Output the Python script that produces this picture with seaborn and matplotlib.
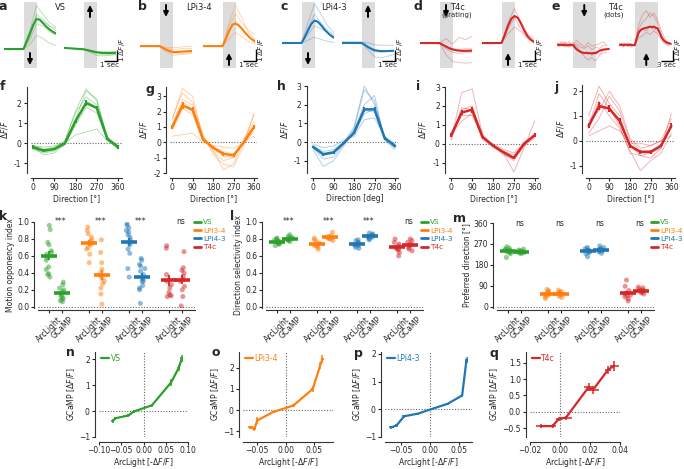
import numpy as np
import pandas as pd
import seaborn as sns
import matplotlib.pyplot as plt
from matplotlib.lines import Line2D
from matplotlib.ticker import FuncFormatter

sns.set_style('ticks')
plt.rcParams['font.family'] = ['DejaVu Sans']
plt.rcParams.update({
    'font.size': 5.5, 'axes.labelsize': 5.5,
    'xtick.labelsize': 5.5, 'ytick.labelsize': 5.5,
    'axes.linewidth': 0.8, 'axes.edgecolor': '0.2',
    'xtick.major.width': 0.8, 'ytick.major.width': 0.8,
    'xtick.major.size': 2.2, 'ytick.major.size': 2.2,
    'xtick.major.pad': 1.5, 'ytick.major.pad': 1.5,
    'axes.labelpad': 1.5,
})

GREEN, ORANGE, BLUE, RED = '#2ca02c', '#ff7f0e', '#1f77b4', '#d62728'
cells = ['VS', 'LPi3-4', 'LPi4-3', 'T4c']
cell_colors = [GREEN, ORANGE, BLUE, RED]

# ---- a-e: time traces ----
trace_t = [-1.5, -1.25, -1.0, -0.75, -0.5, -0.25, 0.0, 0.25, 0.5, 0.75, 1.0,
           1.25, 1.5, 1.75, 2.0, 2.25, 2.5]
trace_t_ind = [-1.5, -1.0, -0.5, 0.0, 0.5, 1.0, 1.5, 2.0, 2.5]
trace_t_e = [-4.0, -3.5, -3.0, -2.5, -2.0, -1.5, -1.0, -0.5, 0.0, 0.5, 1.0, 1.5,
             2.0, 2.5, 3.0, 3.5, 4.0, 4.5, 5.0, 5.5, 6.0, 6.5, 7.0, 7.5, 8.0,
             8.5, 9.0, 9.5]
trace_t_e_ind = [-4, -3, -2, -1, 0, 1, 2, 3, 4, 5, 6, 7, 8, 9]

vs_down_mean = [0, 0, 0, 0, 0, 0, 0, 0.7, 1.4, 2.1, 2.6, 2.55, 2.25, 1.95, 1.7, 1.5, 1.35]
vs_down_ind = [[0, 0, 0, 0, 1.6, 3.8, 3.0, 2.3, 1.9],
               [0, 0, 0, 0, 1.2, 3.0, 2.6, 2.0, 1.6],
               [0, 0, 0, 0, 0.8, 2.2, 2.0, 1.5, 1.2],
               [0, 0, 0, 0, 0.4, 1.2, 0.9, 0.5, 0.3],
               [0, 0, 0, 0, 1.0, 2.8, 2.4, 2.0, 1.8]]
vs_up_mean = [0.1, 0.08, 0.06, 0.04, 0.02, 0, -0.02, -0.08, -0.15, -0.22, -0.28,
              -0.32, -0.34, -0.35, -0.35, -0.34, -0.33]
vs_up_ind = [[0.1, 0.05, 0.0, -0.05, -0.2, -0.4, -0.5, -0.5, -0.45],
             [0.1, 0.05, 0.02, 0.0, -0.1, -0.2, -0.25, -0.2, -0.2],
             [0.1, 0.05, 0.0, -0.03, -0.3, -0.55, -0.6, -0.55, -0.5]]
lpi34_down_mean = [0, 0, 0, 0, 0, 0, 0, -0.15, -0.3, -0.42, -0.5, -0.52, -0.5,
                   -0.48, -0.46, -0.44, -0.42]
lpi34_down_ind = [[0, 0, 0, 0, -0.5, -0.8, -0.75, -0.7, -0.65],
                  [0, 0, 0, 0, -0.2, -0.3, -0.25, -0.2, -0.2],
                  [0, 0, 0, 0, -0.4, -0.6, -0.7, -0.6, -0.55],
                  [0, 0.05, 0, 0.05, -0.1, -0.15, -0.1, -0.05, -0.05]]
lpi34_up_mean = [0, 0, 0, 0, 0, 0, 0, 0.6, 1.3, 1.85, 1.95, 1.8, 1.5, 1.15, 0.85, 0.6, 0.4]
lpi34_up_ind = [[0, 0, 0, 0, 2.0, 3.6, 2.4, 1.2, 0.6],
                [0, 0, 0, 0, 1.2, 2.2, 1.5, 0.8, 0.5],
                [0, 0, 0, 0, 0.6, 1.2, 0.8, 0.4, 0.2],
                [0, 0, 0, 0, 1.8, 2.8, 2.0, 1.4, 1.0]]
lpi43_down_mean = [0, 0, 0, 0, 0, 0, 0, 1.0, 2.2, 3.3, 3.9, 3.7, 3.1, 2.4, 1.8, 1.3, 0.9]
lpi43_down_ind = [[0, 0, 0, 0, 3.5, 6.8, 5.0, 3.0, 1.8],
                  [0, 0, 0, 0, 2.5, 5.0, 3.5, 2.2, 1.4],
                  [0, 0, 0, 0, 1.5, 3.0, 2.5, 1.8, 1.2],
                  [0, 0, 0, 0, 0.5, 1.0, 0.6, 0.3, 0.1]]
lpi43_up_mean = [0, 0, 0, 0, 0, 0, 0, -0.3, -0.7, -1.0, -1.25, -1.35, -1.4, -1.42,
                 -1.4, -1.38, -1.35]
lpi43_up_ind = [[0.2, 0.2, 0.2, 0.2, 0.0, -0.3, -0.4, -0.4, -0.4],
                [0, 0, 0, 0, -1.2, -2.4, -2.6, -2.3, -2.0],
                [0, 0, 0, 0, -0.8, -1.5, -1.6, -1.5, -1.4]]
t4c_down_mean = [0, 0, 0, 0, 0, 0, 0, -0.15, -0.3, -0.45, -0.55, -0.62, -0.66,
                 -0.68, -0.68, -0.67, -0.66]
t4c_down_ind = [[0, 0.05, -0.05, 0, 0.4, -0.1, 0.5, 0.3, 0.6],
                [0, 0, 0, 0, -1.0, -1.6, -1.7, -1.75, -1.7],
                [0, 0, 0, 0, -0.5, -0.8, -0.9, -0.85, -0.8],
                [0, 0, 0, 0, -0.3, -0.5, -0.55, -0.5, -0.5]]
t4c_up_mean = [0, 0, 0, 0, 0, 0, 0, 0.7, 1.5, 2.1, 2.35, 2.2, 1.7, 1.1, 0.6, 0.3, 0.1]
t4c_up_ind = [[0, 0, 0, 0, 1.8, 3.0, 1.8, 0.8, 0.3],
              [0, 0, 0, 0, 1.2, 2.2, 1.2, 0.5, 0.1],
              [0, 0, 0, 0, 0.8, 1.4, 1.0, 0.4, 0.0]]
dots_down_mean = [0.02, -0.03, 0.04, -0.02, 0.03, -0.04, 0.02, -0.01, 0.0, -0.2,
                  -0.38, -0.5, -0.6, -0.66, -0.7, -0.68, -0.72, -0.7, -0.73, -0.69,
                  -0.7, -0.6, -0.5, -0.45, -0.4, -0.38, -0.36, -0.35]
dots_down_ind = [[0.2, -0.1, 0.3, -0.2, 0.1, -0.3, -0.6, -1.0, -1.3, -1.1, -1.4, -0.9, -0.7, -0.6],
                 [-0.1, 0.2, 0.0, 0.3, -0.1, 0.1, -0.2, -0.3, -0.1, -0.4, -0.2, -0.3, 0.0, -0.1],
                 [0.1, 0.0, -0.2, 0.1, 0.2, -0.1, -0.5, -0.7, -0.6, -0.9, -0.7, -0.8, -0.5, -0.4],
                 [0.0, 0.3, 0.1, -0.1, 0.0, 0.4, 0.1, -0.2, 0.2, -0.1, 0.0, 0.1, 0.3, 0.0]]
dots_up_mean = [0.0, 0.03, -0.02, 0.04, -0.03, 0.02, 0.0, -0.02, 0.0, 0.6, 1.1, 1.3,
                1.4, 1.45, 1.5, 1.55, 1.6, 1.55, 1.6, 1.5, 1.45, 1.1, 0.7, 0.45, 0.3,
                0.2, 0.15, 0.1]
dots_up_ind = [[0.1, -0.2, 0.2, 0.0, 0.1, 1.8, 2.6, 3.0, 2.4, 2.8, 2.2, 1.2, 0.5, 0.2],
               [0.0, 0.2, -0.1, 0.1, 0.0, 1.0, 1.4, 1.2, 1.6, 1.3, 1.5, 0.6, 0.2, 0.0],
               [-0.1, 0.1, 0.0, -0.2, 0.1, 0.6, 0.8, 1.1, 0.9, 1.2, 1.0, 0.4, 0.1, -0.1],
               [0.2, 0.0, 0.1, 0.1, -0.1, 1.4, 2.0, 2.3, 2.8, 2.5, 1.9, 0.9, 0.3, 0.1]]

# ---- f-j: direction tuning ----
directions = [0, 45, 90, 135, 180, 225, 270, 315, 360]
vs_tuning = [-0.2, -0.38, -0.3, -0.02, 1.1, 2.0, 1.75, 0.2, -0.2]
vs_tuning_sem = [0.08, 0.08, 0.07, 0.05, 0.12, 0.15, 0.12, 0.06, 0.08]
vs_tuning_ind = [[-0.3, -0.5, -0.4, 0.0, 1.2, 2.6, 2.2, 0.2, -0.3],
                 [-0.1, -0.3, -0.2, 0.1, 1.5, 2.3, 1.9, 0.3, -0.1],
                 [-0.25, -0.45, -0.35, -0.1, 0.9, 1.8, 1.5, 0.15, -0.25],
                 [-0.2, -0.6, -0.5, -0.05, 1.0, 2.1, 1.8, 0.25, -0.2],
                 [-0.15, -0.2, -0.15, 0.0, 0.4, 0.55, 0.7, 0.1, -0.15],
                 [-0.3, -0.4, -0.3, 0.1, 1.6, 2.7, 2.1, 0.3, -0.3]]
lpi34_tuning = [1.0, 2.4, 2.1, 0.2, -0.35, -0.75, -0.85, 0.0, 1.0]
lpi34_tuning_sem = [0.15, 0.2, 0.18, 0.08, 0.08, 0.12, 0.12, 0.06, 0.15]
lpi34_tuning_ind = [[1.5, 3.5, 3.0, 0.3, -0.6, -1.2, -1.0, 0.1, 1.8],
                    [0.8, 2.2, 1.8, 0.1, -0.3, -0.6, -0.8, -0.1, 0.7],
                    [1.2, 2.8, 2.4, 0.4, -0.5, -1.8, -1.4, 0.2, 1.3],
                    [0.4, 0.5, 0.6, 0.0, -0.2, -0.3, -0.4, 0.0, 0.4],
                    [1.0, 2.6, 2.2, 0.2, -0.4, -0.9, -1.0, 0.0, 0.9],
                    [1.6, 3.2, 2.6, 0.5, -0.8, -1.4, -1.6, -0.2, 1.9]]
lpi43_tuning = [-0.25, -0.65, -0.55, -0.05, 0.5, 1.75, 1.75, 0.2, -0.2]
lpi43_tuning_sem = [0.05, 0.08, 0.07, 0.05, 0.08, 0.15, 0.15, 0.06, 0.05]
lpi43_tuning_ind = [[-0.3, -0.9, -0.8, -0.1, 0.7, 2.8, 2.2, 0.2, -0.3],
                    [-0.2, -0.5, -0.4, 0.0, 0.4, 1.5, 1.8, 0.3, -0.2],
                    [-0.4, -1.3, -1.0, -0.2, 0.6, 2.0, 2.5, 0.1, -0.4],
                    [-0.1, -0.3, -0.2, 0.1, 0.3, 1.2, 1.3, 0.3, -0.1],
                    [-0.3, -0.7, -0.6, 0.0, 0.8, 3.0, 2.0, 0.2, -0.3],
                    [-0.2, -0.6, -0.5, -0.1, 0.5, 1.7, 1.6, 0.2, -0.2]]
grating_tuning = [0.45, 1.65, 1.8, 0.35, -0.1, -0.45, -0.75, 0.0, 0.45]
grating_tuning_sem = [0.1, 0.15, 0.15, 0.08, 0.05, 0.06, 0.08, 0.05, 0.1]
grating_tuning_ind = [[0.3, 2.7, 2.9, 0.5, -0.1, -0.5, -1.5, -0.2, 1.2],
                      [0.6, 1.5, 1.5, 0.3, -0.1, -0.4, -0.6, 0.0, 0.4],
                      [0.2, 1.8, 2.0, 0.4, -0.2, -0.5, -0.9, -0.1, 0.3],
                      [0.5, 1.2, 1.6, 0.3, 0.0, -0.3, -0.5, 0.1, 0.5],
                      [0.4, 1.9, 1.8, 0.2, -0.1, -0.6, -0.8, 0.0, 0.4]]
dots_tuning = [0.6, 1.4, 1.3, 0.8, -0.2, -0.45, -0.45, -0.2, 0.6]
dots_tuning_sem = [0.1, 0.15, 0.15, 0.12, 0.08, 0.08, 0.08, 0.06, 0.1]
dots_tuning_ind = [[1.0, 2.2, 1.5, 1.0, -0.2, -0.6, -0.5, -0.3, 1.1],
                   [0.3, 0.9, 1.8, 1.2, 0.0, -0.4, -0.4, -0.2, 0.5],
                   [0.5, 1.6, 1.0, 0.5, -0.4, -1.2, -0.8, -0.5, 0.3],
                   [0.8, 1.2, 2.0, 1.4, 0.1, -0.3, -0.2, 0.0, 0.9],
                   [0.2, 0.4, 0.6, 0.4, -0.1, -0.1, -0.2, 0.0, 0.2],
                   [0.6, 1.9, 1.3, 0.6, -0.5, -0.6, -0.7, -0.3, 0.6]]

# ---- k-m: indices, per cell type (VS, LPi3-4, LPi4-3, T4c) ----
group_pos = [0, 3, 6, 9]
pair_labels = ['ArcLight', 'GCaMP']
moi_arclight = [[0.96, 0.91, 0.76, 0.73, 0.66, 0.64, 0.62, 0.58, 0.55, 0.47, 0.44, 0.39, 0.35, 0.38],
                [0.94, 0.9, 0.86, 0.82, 0.79, 0.77, 0.75, 0.73, 0.7, 0.68, 0.62, 0.52],
                [0.98, 0.96, 0.93, 0.9, 0.88, 0.85, 0.82, 0.79, 0.76, 0.73, 0.68, 0.63, 0.45, 0.35],
                [0.72, 0.69, 0.38, 0.32, 0.3, 0.26, 0.22, 0.17, 0.14, 0.12, 0.13]]
moi_gcamp = [[0.29, 0.26, 0.22, 0.18, 0.16, 0.14, 0.12, 0.1, 0.09, 0.07, 0.06, 0.2],
             [0.79, 0.64, 0.52, 0.44, 0.4, 0.36, 0.33, 0.3, 0.27, 0.22, 0.15, 0.03],
             [0.57, 0.55, 0.5, 0.48, 0.45, 0.42, 0.38, 0.33, 0.3, 0.3, 0.25, 0.22, 0.2, 0.04],
             [0.65, 0.46, 0.43, 0.4, 0.36, 0.32, 0.24, 0.12, 0.01, 0.2, 0.3]]
moi_sig = ['***', '***', '***', 'ns']
dsi_arclight = [[0.72, 0.74, 0.75, 0.76, 0.77, 0.78, 0.79, 0.8, 0.74, 0.76, 0.81],
                [0.68, 0.7, 0.72, 0.73, 0.74, 0.75, 0.77, 0.79, 0.81, 0.72],
                [0.69, 0.7, 0.72, 0.73, 0.74, 0.75, 0.76, 0.78, 0.79, 0.73],
                [0.6, 0.64, 0.67, 0.69, 0.7, 0.72, 0.74, 0.76, 0.8, 0.68]]
dsi_gcamp = [[0.77, 0.78, 0.79, 0.8, 0.81, 0.82, 0.83, 0.85, 0.79, 0.8],
             [0.78, 0.8, 0.81, 0.82, 0.83, 0.84, 0.88, 0.8, 0.81],
             [0.79, 0.8, 0.82, 0.83, 0.84, 0.85, 0.86, 0.87, 0.82, 0.83],
             [0.66, 0.68, 0.7, 0.72, 0.74, 0.76, 0.78, 0.8, 0.73]]
dsi_sig = ['***', '***', '***', 'ns']
pd_arclight = [[212, 228, 232, 236, 238, 240, 242, 245, 248, 252, 258],
               [36, 42, 48, 52, 55, 58, 62, 66, 70, 75],
               [215, 228, 233, 236, 240, 243, 246, 250, 255, 242],
               [25, 35, 42, 48, 55, 60, 70, 88, 115, 50]]
pd_gcamp = [[228, 231, 233, 235, 237, 239, 241, 244, 248, 236],
            [40, 45, 50, 54, 57, 60, 63, 67, 72, 58],
            [230, 236, 240, 244, 247, 250, 255, 262, 245, 242],
            [55, 60, 63, 67, 70, 72, 76, 82, 85, 68]]
pd_sig = ['ns', 'ns', 'ns', 'ns']

# ---- n-q: ArcLight vs GCaMP ----
vs_arc = [-0.069, -0.063, -0.034, -0.022, 0.019, 0.062, 0.079, 0.086]
vs_gc = [-0.38, -0.28, -0.17, -0.02, 0.22, 1.1, 1.65, 2.02]
vs_arc_err = [0.003, 0.003, 0.003, 0.002, 0.002, 0.003, 0.003, 0.003]
vs_gc_err = [0.08, 0.06, 0.05, 0.05, 0.06, 0.12, 0.12, 0.15]
lpi34_arc = [-0.062, -0.055, -0.05, -0.022, 0.013, 0.047, 0.06, 0.064]
lpi34_gc = [-0.8, -0.88, -0.48, -0.08, 0.22, 1.0, 2.1, 2.4]
lpi34_arc_err = [0.005, 0.003, 0.003, 0.003, 0.003, 0.003, 0.002, 0.002]
lpi34_gc_err = [0.08, 0.08, 0.18, 0.06, 0.08, 0.12, 0.15, 0.18]
lpi43_arc = [-0.067, -0.058, -0.045, -0.022, 0.03, 0.055, 0.062, 0.063]
lpi43_gc = [-0.65, -0.58, -0.25, -0.16, 0.2, 0.5, 1.7, 1.78]
lpi43_arc_err = [0.004, 0.003, 0.003, 0.002, 0.002, 0.002, 0.002, 0.002]
lpi43_gc_err = [0.05, 0.05, 0.05, 0.04, 0.04, 0.05, 0.1, 0.1]
t4c_arc = [-0.013, -0.005, -0.001, 0.004, 0.019, 0.022, 0.032, 0.036]
t4c_gc = [-0.43, -0.43, -0.22, -0.17, 0.75, 0.67, 1.28, 1.4]
t4c_arc_err = [0.003, 0.002, 0.002, 0.004, 0.003, 0.004, 0.002, 0.003]
t4c_gc_err = [0.06, 0.05, 0.06, 0.06, 0.12, 0.12, 0.12, 0.15]

W, H = 684, 469
fig = plt.figure(figsize=(W / 100, H / 100), dpi=100)


def add_ax(left, top, right, bottom):
    return fig.add_axes([left / W, 1 - bottom / H, (right - left) / W, (bottom - top) / H])


def outward(ax, left=4, bottom=5):
    sns.despine(ax=ax)
    ax.spines['left'].set_position(('outward', left * 0.72))
    ax.spines['bottom'].set_position(('outward', bottom * 0.72))


def zero_line(ax, horizontal=True):
    kw = dict(ls=(0, (1, 1.5)), color='0.4', lw=0.8, zorder=0)
    if horizontal:
        ax.axhline(0, **kw)
    else:
        ax.axvline(0, **kw)


# panel letters
letters = {'a': (3, 6), 'b': (142, 6), 'c': (284, 6), 'd': (418, 6), 'e': (556, 6),
           'f': (3, 87), 'g': (150, 89), 'h': (281, 87), 'i': (418, 87), 'j': (557, 87),
           'k': (3, 216), 'l': (232, 216), 'm': (460, 218),
           'n': (70, 353), 'o': (216, 353), 'p': (358, 353), 'q': (494, 353)}
for k, (x, y) in letters.items():
    fig.text(x / W, 1 - y / H, k, fontsize=9, fontweight='bold', ha='center', va='center')

# ---------- row 1 ----------
short_x = (-1.5, 2.5)
long_x = (-4.2, 9.8)
row1 = [
    # left, width, xlim, stim, ylim, color, t, mean, t_ind, ind, arrow dir, arrow at, scale
    (4, 52, short_x, (0, 1), (-1.65, 4.09), GREEN, trace_t, vs_down_mean, trace_t_ind, vs_down_ind, 'down', 'bottom', None),
    (64, 52, short_x, (0, 1), (-1.65, 4.09), GREEN, trace_t, vs_up_mean, trace_t_ind, vs_up_ind, 'up', 'top', (1, 1)),
    (140, 52, short_x, (0, 1), (-1.9, 3.83), ORANGE, trace_t, lpi34_down_mean, trace_t_ind, lpi34_down_ind, 'down', 'top', None),
    (203, 52, short_x, (0, 1), (-1.9, 3.83), ORANGE, trace_t, lpi34_up_mean, trace_t_ind, lpi34_up_ind, 'up', 'bottom', (1, 1)),
    (282, 52, short_x, (0, 1), (-4.35, 7.13), BLUE, trace_t, lpi43_down_mean, trace_t_ind, lpi43_down_ind, 'down', 'bottom', None),
    (342, 52, short_x, (0, 1), (-4.35, 7.13), BLUE, trace_t, lpi43_up_mean, trace_t_ind, lpi43_up_ind, 'up', 'top', (1, 2)),
    (420, 52, short_x, (0, 1), (-2.17, 3.57), RED, trace_t, t4c_down_mean, trace_t_ind, t4c_down_ind, 'down', 'top', None),
    (482, 52, short_x, (0, 1), (-2.17, 3.57), RED, trace_t, t4c_up_mean, trace_t_ind, t4c_up_ind, 'up', 'bottom', (1, 1)),
    (557, 53, long_x, (0, 6), (-2.0, 3.74), RED, trace_t_e, dots_down_mean, trace_t_e_ind, dots_down_ind, 'down', 'top', None),
    (619, 53, long_x, (0, 6), (-2.0, 3.74), RED, trace_t_e, dots_up_mean, trace_t_e_ind, dots_up_ind, 'up', 'bottom', (3, 1)),
]
for (left, width, xl, stim, yl, col, t, mean, t_ind, ind, adir, apos, scale) in row1:
    ax = add_ax(left, 2, left + width, 68)
    ax.axvspan(stim[0], stim[1], color='#dcdcdc', lw=0, zorder=0)
    for tr in ind:
        sns.lineplot(x=t_ind, y=tr, ax=ax, color=col, lw=0.6, alpha=0.35)
    sns.lineplot(x=t, y=mean, ax=ax, color=col, lw=1.5)
    ax.set_xlim(xl)
    ax.set_ylim(yl)
    ax.axis('off')
    xc = (stim[0] + stim[1]) / 2
    if apos == 'top':
        ys = (0.773, 0.955)
    else:
        ys = (0.045, 0.227)
    tail, head = (ys[1], ys[0]) if adir == 'down' else (ys[0], ys[1])
    ax.annotate('', xy=(xc, head), xytext=(xc, tail),
                xycoords=('data', 'axes fraction'), textcoords=('data', 'axes fraction'),
                arrowprops=dict(arrowstyle='-|>', color='k', lw=1.4,
                                mutation_scale=7, shrinkA=0, shrinkB=0))
    if scale is not None:
        sec, dff = scale
        xcor = xl[1] + 0.05 * (xl[1] - xl[0]) / 4
        ycor = yl[0] + 0.106 * (yl[1] - yl[0])
        ax.plot([xcor - sec, xcor, xcor], [ycor, ycor, ycor + dff], color='k',
                lw=1.0, clip_on=False, solid_capstyle='butt')
        ax.text(xcor - sec / 2 - 0.04 * (xl[1] - xl[0]) / 4, ycor - 0.02 * (yl[1] - yl[0]),
                f'{sec} sec', ha='center', va='top', fontsize=5.2)
        ax.text(xcor + 0.04 * (xl[1] - xl[0]) / 4, ycor - 0.01 * (yl[1] - yl[0]),
                rf'{dff} $\Delta F/F$', rotation=90, ha='left', va='bottom', fontsize=5.2)

fig.text(60 / W, 1 - 8 / H, 'VS', fontsize=6, ha='center', va='center')
fig.text(199 / W, 1 - 8 / H, 'LPi3-4', fontsize=6, ha='center', va='center')
fig.text(334 / W, 1 - 8 / H, 'LPi4-3', fontsize=6, ha='center', va='center')
fig.text(457 / W, 1 - 7 / H, 'T4c', fontsize=6, ha='center', va='center')
fig.text(457 / W, 1 - 15 / H, '(grating)', fontsize=5, ha='center', va='center')
fig.text(615 / W, 1 - 7 / H, 'T4c', fontsize=6, ha='center', va='center')
fig.text(614 / W, 1 - 15 / H, '(dots)', fontsize=5, ha='center', va='center')

# ---------- row 2 ----------
hyphen_fmt = FuncFormatter(lambda v, p: f'{v:g}')
row2 = [
    (33, 118, (-1.5, 2.8), 87, [-1, 0, 1, 2], GREEN, vs_tuning, vs_tuning_sem, vs_tuning_ind, 'Direction [°]'),
    (172.3, 254, (-2.0, 3.6), 87, [-2, -1, 0, 1, 2, 3], ORANGE, lpi34_tuning, lpi34_tuning_sem, lpi34_tuning_ind, 'Direction [°]'),
    (313, 395, (-1.65, 3.0), 86, [-1, 0, 1, 2, 3], BLUE, lpi43_tuning, lpi43_tuning_sem, lpi43_tuning_ind, 'Direction [deg]'),
    (451.3, 534.7, (-1.55, 3.0), 87, [-1, 0, 1, 2, 3], RED, grating_tuning, grating_tuning_sem, grating_tuning_ind, 'Direction [°]'),
    (588.7, 671.3, (-1.3, 2.25), 85, [-1, 0, 1, 2], RED, dots_tuning, dots_tuning_sem, dots_tuning_ind, 'Direction [°]'),
]
for (x0, x360, yl, top, yt, col, mean, sem, ind, xlab) in row2:
    s = (x360 - x0) / 360
    ax = add_ax(x0 - 10 * s, top, x0 + 375 * s, 173)
    zero_line(ax)
    for tr in ind:
        sns.lineplot(x=directions, y=tr, ax=ax, color=col, lw=0.7, alpha=0.35)
    ax.errorbar(directions, mean, yerr=sem, color=col, lw=1.8, elinewidth=1.5, capsize=0)
    ax.set_xlim(-10, 375)
    ax.set_ylim(yl)
    ax.set_xticks([0, 90, 180, 270, 360])
    ax.set_yticks(yt)
    ax.yaxis.set_major_formatter(hyphen_fmt)
    ax.set_xlabel(xlab)
    ax.set_ylabel(r'$\Delta F/F$', labelpad=3)
    outward(ax)

# ---------- row 3 ----------
pal = dict(zip(cells, cell_colors))
row3 = [
    (49, moi_arclight, moi_gcamp, moi_sig, (-0.015, 1.0), [0.0, 0.2, 0.4, 0.6, 0.8, 1.0],
     'Motion opponency index', 194),
    (277, dsi_arclight, dsi_gcamp, dsi_sig, (-0.015, 1.0), [0.0, 0.2, 0.4, 0.6, 0.8, 1.0],
     'Direction selectivity index', 421),
    (508, pd_arclight, pd_gcamp, pd_sig, (-5, 360), [0, 90, 180, 270, 360],
     'Preferred direction [°]', 651),
]
np.random.seed(3)
for (x0, arc, gc, sig, yl, yt, ylab, legx) in row3:
    s = 13.3
    top = 222 if yl[1] < 2 else 223
    ax = add_ax(x0 - 0.8 * s, top, x0 + 11 * s, 308)
    zero_line(ax)
    rows = []
    for gp, cname, a_vals, g_vals in zip(group_pos, cells, arc, gc):
        rows += [(gp, cname, v) for v in a_vals]
        rows += [(gp + 1, cname, v) for v in g_vals]
    df = pd.DataFrame(rows, columns=['pos', 'cell', 'val'])
    sns.stripplot(data=df, x='pos', y='val', hue='cell', palette=pal, native_scale=True,
                  jitter=0.22, size=3.6, alpha=0.5, linewidth=0, ax=ax, legend=False)
    for gp, col, a_vals, g_vals, sg in zip(group_pos, cell_colors, arc, gc, sig):
        for p, vals in ((gp, a_vals), (gp + 1, g_vals)):
            v = np.asarray(vals, float)
            ax.errorbar([p], [v.mean()], yerr=[v.std(ddof=1) / np.sqrt(len(v))],
                        fmt='_', color=col, markersize=11, mew=2.6, elinewidth=1.3,
                        capsize=0, zorder=5)
        ax.text(gp + 0.9, yl[1], sg, ha='center', va='center', fontsize=5.5)
    ax.set_xlim(-0.8, 11)
    ax.set_ylim(yl)
    ax.set_yticks(yt)
    ax.set_xticks([p for gp in group_pos for p in (gp, gp + 1)])
    ax.set_xticklabels(pair_labels * 4)
    ax.tick_params(axis='x', labelrotation=45)
    for lab in ax.get_xticklabels():
        lab.set_horizontalalignment('right')
        lab.set_rotation_mode('anchor')
    ax.set_xlabel('')
    ax.set_ylabel(ylab)
    outward(ax, 4, 2)
    handles = [Line2D([0], [0], color=c, lw=2) for c in cell_colors]
    leg = ax.legend(handles, cells, loc='upper left', bbox_to_anchor=(legx / W, 1 - 219 / H),
                    bbox_transform=fig.transFigure, frameon=False, handlelength=1.0,
                    handletextpad=0.2, labelspacing=0.3, borderaxespad=0, borderpad=0,
                    fontsize=5.3)
    for txt, c in zip(leg.get_texts(), cell_colors):
        txt.set_color(c)

# ---------- row 4 ----------
row4 = [
    (99, 188, (-0.1, 0.1), (-1.0, 2.27), [-0.1, -0.05, 0.0, 0.05, 0.1], [-1, 0, 1, 2],
     GREEN, 'VS', vs_arc, vs_gc, vs_arc_err, vs_gc_err),
    (243, 333, (-0.075, 0.0825), (-1.26, 2.74), [-0.05, 0.0, 0.05], [-1, 0, 1, 2],
     ORANGE, 'LPi3-4', lpi34_arc, lpi34_gc, lpi34_arc_err, lpi34_gc_err),
    (385, 472, (-0.078, 0.072), (-1.0, 2.07), [-0.05, 0.0, 0.05], [-1, 0, 1, 2],
     BLUE, 'LPi4-3', lpi43_arc, lpi43_gc, lpi43_arc_err, lpi43_gc_err),
    (530, 620, (-0.02, 0.04), (-0.76, 1.82), [-0.02, 0.0, 0.02, 0.04], [-0.5, 0.0, 0.5, 1.0, 1.5],
     RED, 'T4c', t4c_arc, t4c_gc, t4c_arc_err, t4c_gc_err),
]
for (l, r, xl, yl, xt, yt, col, name, xa, yg, xe, ye) in row4:
    ax = add_ax(l, 352, r, 437)
    zero_line(ax)
    zero_line(ax, horizontal=False)
    sns.lineplot(x=xa, y=yg, ax=ax, color=col, lw=1.6, label=name, sort=False)
    ax.errorbar(xa, yg, xerr=xe, yerr=ye, fmt='none', ecolor=col, elinewidth=1.1, capsize=0)
    ax.set_xlim(xl)
    ax.set_ylim(yl)
    ax.set_xticks(xt)
    ax.set_yticks(yt)
    ax.tick_params(axis='x', pad=1)
    ax.set_xlabel(r'ArcLight [-$\Delta F/F$]', labelpad=0.5)
    ax.set_ylabel(r'GCaMP [$\Delta F/F$]')
    outward(ax, 4, 4.5)
    leg = ax.legend(loc='upper left', frameon=False, handlelength=1.1, handletextpad=0.2,
                    borderaxespad=0.1, borderpad=0.1, fontsize=5.5)
    for txt in leg.get_texts():
        txt.set_color(col)

fig.savefig('out.png', dpi=100)
